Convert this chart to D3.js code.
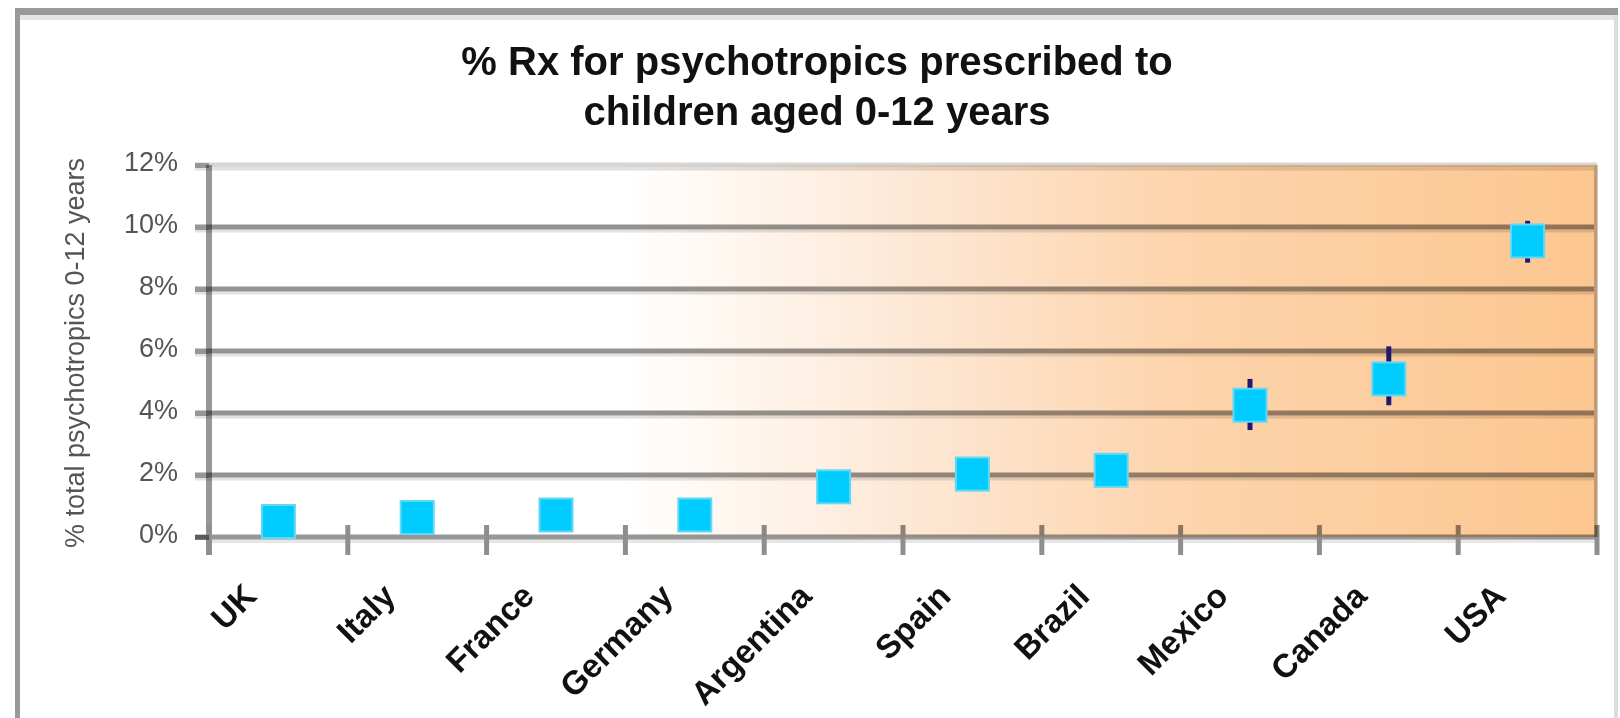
<!DOCTYPE html>
<html>
<head>
<meta charset="utf-8">
<script src="https://cdn.jsdelivr.net/npm/d3@7"></script>
<style>
  html, body { margin: 0; padding: 0; background: #fff; }
  svg { display: block; }
  text { font-family: "Liberation Sans", Arial, sans-serif; }
</style>
</head>
<body>
<svg id="chart" width="1620" height="718"></svg>
<script>
const categories = ["UK", "Italy", "France", "Germany", "Argentina", "Spain", "Brazil", "Mexico", "Canada", "USA"];
const values     = [0.50, 0.63, 0.71, 0.71, 1.62, 2.03, 2.15, 4.25, 5.10, 9.55];
const errLow     = [null, null, null, null, null, null, null, 3.45, 4.25, 8.85];
const errHigh    = [null, null, null, null, null, null, null, 5.10, 6.15, 10.20];
const yTicks      = [0, 2, 4, 6, 8, 10, 12];
const yTickLabels = ["0%", "2%", "4%", "6%", "8%", "10%", "12%"];
const titleLines  = ["% Rx for psychotropics prescribed to", "children aged 0-12 years"];
const yTitle      = "% total psychotropics 0-12 years";

const svg = d3.select("#chart");
const W = 1620, H = 718;
const plot = { left: 209, right: 1597, top: 165, bottom: 537 };

// outer frame
svg.append("rect").attr("x", 15).attr("y", 8).attr("width", 1603).attr("height", 7).attr("fill", "#999");
svg.append("rect").attr("x", 20).attr("y", 15).attr("width", 1598).attr("height", 5).attr("fill", "#e4e4e4");
svg.append("rect").attr("x", 15).attr("y", 8).attr("width", 5).attr("height", H - 8).attr("fill", "#999");
svg.append("rect").attr("x", 1614).attr("y", 15).attr("width", 4).attr("height", H - 15).attr("fill", "#dcdcdc");

// gradient
const defs = svg.append("defs");
const grad = defs.append("linearGradient").attr("id", "bg").attr("x1", "0%").attr("x2", "100%").attr("y1", "0%").attr("y2", "0%");
[[0, "#ffffff"], [0.3, "#ffffff"], [0.52, "#fde6d2"], [0.7, "#fdd4ac"], [1, "#fcc690"]].forEach(s =>
  grad.append("stop").attr("offset", s[0]).attr("stop-color", s[1]));

const x = d3.scaleBand().domain(categories).range([plot.left, plot.right]).padding(0);
const y = d3.scaleLinear().domain([0, 12]).range([plot.bottom, plot.top]);

svg.append("rect")
  .attr("x", plot.left).attr("y", plot.top)
  .attr("width", plot.right - plot.left).attr("height", plot.bottom - plot.top)
  .attr("fill", "url(#bg)");

// gridlines
const grid = svg.append("g").style("mix-blend-mode", "multiply");
yTicks.filter(d => d > 0).forEach(d => {
  const top = d === 12;
  grid.append("line")
    .attr("x1", plot.left - 14).attr("x2", plot.right)
    .attr("y1", y(d) + 4).attr("y2", y(d) + 4)
    .attr("stroke", "#e2e2e2").attr("stroke-width", 3);
  grid.append("line")
    .attr("x1", plot.left - 14).attr("x2", plot.right)
    .attr("y1", y(d)).attr("y2", y(d))
    .attr("stroke", top ? "#d6d6d6" : "#939393").attr("stroke-width", 5);
});
// right border of plot
grid.append("line").attr("x1", plot.right - 1).attr("x2", plot.right - 1)
  .attr("y1", plot.top).attr("y2", plot.bottom).attr("stroke", "#c8c8c8").attr("stroke-width", 4);

// y axis (ticks + labels)
const yAxis = d3.axisLeft(y).tickValues(yTicks).tickFormat((d, i) => yTickLabels[i]).tickSize(14).tickPadding(17);
const gy = svg.append("g").attr("transform", `translate(${plot.left},0)`).call(yAxis);
gy.select(".domain").remove();
gy.selectAll(".tick line").attr("stroke", "#979797").attr("stroke-width", 5);
gy.selectAll(".tick text")
  .attr("font-size", 27).attr("fill", "#555")
  .attr("dy", "0.22em")
  .style("font-family", "'Liberation Sans', Arial, sans-serif");

// axis lines
const ax = svg.append("g").style("mix-blend-mode", "multiply");
ax.append("line").attr("x1", plot.left).attr("x2", plot.right)
  .attr("y1", plot.bottom + 2).attr("y2", plot.bottom + 2).attr("stroke", "#e6e6e6").attr("stroke-width", 8);
ax.append("line").attr("x1", plot.left - 14).attr("x2", plot.right)
  .attr("y1", plot.bottom).attr("y2", plot.bottom).attr("stroke", "#979797").attr("stroke-width", 5);
ax.append("line").attr("x1", plot.left).attr("x2", plot.left)
  .attr("y1", plot.top).attr("y2", plot.bottom + 18).attr("stroke", "#979797").attr("stroke-width", 6);

// x ticks at category boundaries
const bounds = categories.map(c => x(c)).concat([x.range()[1]]);
ax.selectAll("line.xt").data(bounds).enter().append("line")
  .attr("class", "xt")
  .attr("x1", d => d).attr("x2", d => d)
  .attr("y1", plot.bottom - 12).attr("y2", plot.bottom + 18)
  .attr("stroke", "#8e8e8e").attr("stroke-width", 5);

// x labels
svg.append("g").selectAll("text").data(categories).enter().append("text")
  .attr("transform", d => `translate(${x(d) + x.bandwidth() / 2 - 20},${plot.bottom + 61}) rotate(-45)`)
  .attr("text-anchor", "end")
  .attr("font-size", 33).attr("font-weight", "bold").attr("fill", "#111")
  .text(d => d);

// error bars
const eb = svg.append("g");
categories.forEach((c, i) => {
  if (errLow[i] == null) return;
  eb.append("line")
    .attr("x1", x(c) + x.bandwidth() / 2).attr("x2", x(c) + x.bandwidth() / 2)
    .attr("y1", y(errHigh[i])).attr("y2", y(errLow[i]))
    .attr("stroke", "#22186e").attr("stroke-width", 5);
});

// markers
const ms = 33;
svg.append("g").selectAll("rect").data(categories).enter().append("rect")
  .attr("x", d => x(d) + x.bandwidth() / 2 - ms / 2)
  .attr("y", (d, i) => y(values[i]) - ms / 2)
  .attr("width", ms).attr("height", ms)
  .attr("fill", "#00ccff")
  .attr("stroke", "#62d8f4").attr("stroke-width", 2);

// title
const title = svg.append("text").attr("text-anchor", "middle")
  .attr("font-size", 40).attr("font-weight", "bold").attr("fill", "#111");
titleLines.forEach((t, i) => title.append("tspan").attr("x", 817).attr("y", 75 + i * 50).text(t));

// y axis title
svg.append("text")
  .attr("transform", `translate(84,353) rotate(-90)`)
  .attr("text-anchor", "middle")
  .attr("font-size", 27).attr("fill", "#555")
  .text(yTitle);
</script>
</body>
</html>
